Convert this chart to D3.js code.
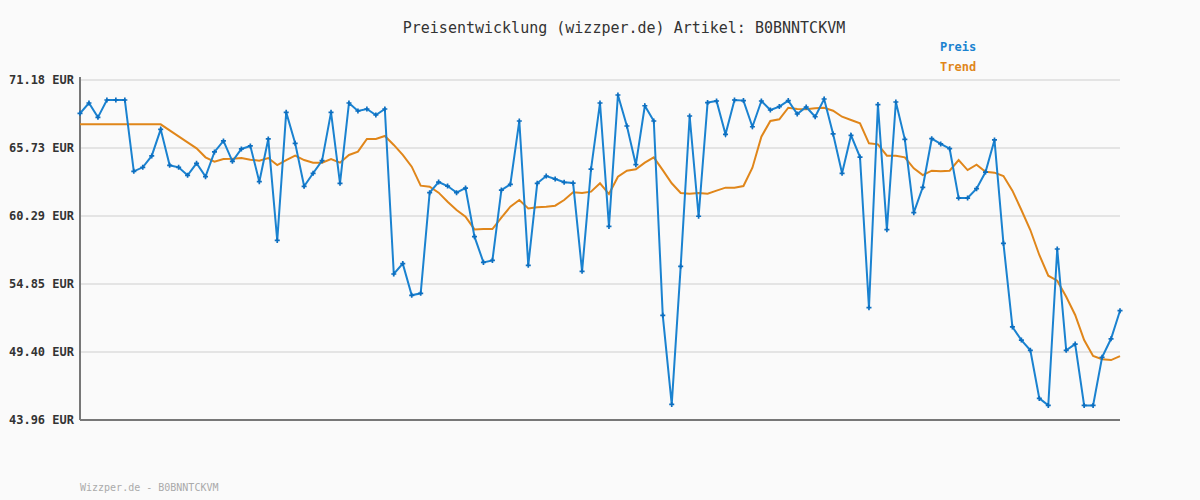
<!DOCTYPE html>
<html><head><meta charset="utf-8">
<script src="https://cdn.jsdelivr.net/npm/d3@7"></script>
<style>body{margin:0;background:#fafafa}svg{display:block}</style></head>
<body><svg id="c" width="1200" height="500"></svg>
<script>
const title = "Preisentwicklung (wizzper.de) Artikel: B0BNNTCKVM";
const footer = "Wizzper.de - B0BNNTCKVM";
const yTicks = [43.96, 49.40, 54.85, 60.29, 65.73, 71.18];
const price = [68.51,69.34,68.19,69.58,69.58,69.58,63.87,64.19,65.10,67.23,64.35,64.19,63.55,64.51,63.44,65.42,66.30,64.67,65.66,65.90,63.04,66.46,58.34,68.59,66.11,62.67,63.71,64.72,68.59,62.91,69.34,68.70,68.86,68.38,68.86,55.65,56.48,53.94,54.10,62.16,63.01,62.69,62.16,62.53,58.64,56.58,56.74,62.37,62.83,67.90,56.34,62.91,63.49,63.25,62.99,62.93,55.86,64.05,69.34,59.46,69.98,67.50,64.40,69.12,67.90,52.34,45.21,56.26,68.30,60.27,69.37,69.50,66.83,69.58,69.53,67.44,69.50,68.78,69.05,69.53,68.46,69.02,68.24,69.66,66.86,63.71,66.75,65.01,52.95,69.21,59.20,69.42,66.43,60.56,62.59,66.48,66.06,65.68,61.73,61.73,62.48,63.81,66.38,58.10,51.41,50.36,49.54,45.69,45.13,57.65,49.54,50.04,45.13,45.13,48.98,50.46,52.71];
const trend = [67.63,67.63,67.63,67.63,67.63,67.63,67.63,67.63,67.63,67.63,67.15,66.67,66.19,65.71,64.99,64.64,64.85,64.88,64.93,64.80,64.72,64.93,64.37,64.77,65.12,64.77,64.56,64.56,64.85,64.56,65.18,65.44,66.46,66.46,66.70,65.98,65.18,64.24,62.72,62.64,62.16,61.44,60.77,60.24,59.22,59.25,59.25,60.16,61.04,61.57,60.90,60.99,61.04,61.12,61.57,62.19,62.13,62.24,62.91,62.05,63.44,63.92,64.03,64.56,64.99,63.97,62.91,62.13,62.08,62.13,62.08,62.32,62.56,62.56,62.69,64.16,66.64,67.90,68.03,68.96,68.86,68.83,68.91,68.96,68.72,68.24,67.98,67.71,66.11,66.03,65.12,65.12,64.99,64.11,63.57,63.92,63.87,63.92,64.77,63.97,64.40,63.84,63.76,63.49,62.32,60.77,59.17,57.17,55.51,55.11,53.83,52.37,50.36,49.08,48.82,48.76,49.08];

const svg = d3.select("#c");
const L=80,R=1120,T=80,B=420;
const x = d3.scaleLinear().domain([0, price.length-1]).range([L,R]);
const y = d3.scaleLinear().domain([43.96,71.18]).range([B,T]);
const font = "'DejaVu Sans Mono', monospace";

svg.append("g").selectAll("line").data(yTicks).join("line")
  .attr("x1",L).attr("x2",R).attr("y1",d=>y(d)).attr("y2",d=>y(d))
  .attr("stroke","#e4e4e4").attr("stroke-width",2);
svg.append("g").selectAll("text").data(yTicks).join("text")
  .attr("x",L-6).attr("y",d=>y(d)+4).attr("text-anchor","end")
  .attr("font-family",font).attr("font-size",12).attr("font-weight","bold").attr("fill","#333")
  .text(d=>d.toFixed(2)+" EUR");
svg.append("line").attr("x1",L).attr("x2",L).attr("y1",T-3).attr("y2",B).attr("stroke","#777").attr("stroke-width",2);
svg.append("line").attr("x1",L).attr("x2",R).attr("y1",B).attr("y2",B).attr("stroke","#777").attr("stroke-width",2);

const line = d3.line().x((d,i)=>x(i)).y(d=>y(d));
svg.append("path").datum(trend).attr("d",line).attr("fill","none").attr("stroke","#e0861a").attr("stroke-width",2);
svg.append("path").datum(price).attr("d",line).attr("fill","none").attr("stroke","#1a82d0").attr("stroke-width",2);
svg.append("g").selectAll("path").data(price).join("path")
  .attr("d",d3.symbol(d3.symbolCross,14)).attr("transform",(d,i)=>`translate(${x(i)},${y(d)})`)
  .attr("fill","#0d6fc0");

svg.append("text").attr("x",624).attr("y",33).attr("text-anchor","middle")
  .attr("font-family",font).attr("font-size",15).attr("fill","#333").text(title);
svg.append("text").attr("x",940).attr("y",51).attr("font-family",font).attr("font-size",12).attr("font-weight","bold").attr("fill","#1a82d0").text("Preis");
svg.append("text").attr("x",940).attr("y",71).attr("font-family",font).attr("font-size",12).attr("font-weight","bold").attr("fill","#e0861a").text("Trend");
svg.append("text").attr("x",80).attr("y",491).attr("font-family",font).attr("font-size",10).attr("fill","#aaa").text(footer);
</script></body></html>
